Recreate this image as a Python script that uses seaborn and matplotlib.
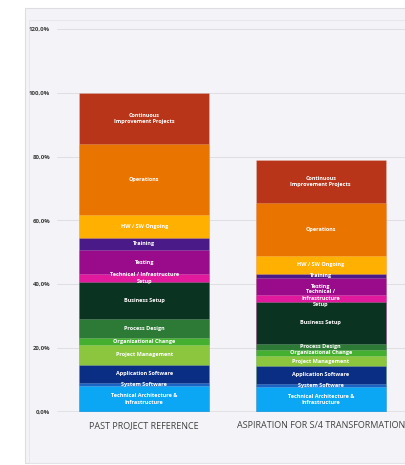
import matplotlib
matplotlib.use("Agg")
import matplotlib.pyplot as plt
import seaborn as sns
import numpy as np
import pandas as pd
from matplotlib.patches import Rectangle

categories = ["PAST PROJECT REFERENCE", "ASPIRATION FOR S/4 TRANSFORMATION"]

segments = [
    "Technical Architecture & Infrastructure",
    "System Software",
    "Application Software",
    "Project Management",
    "Organizational Change",
    "Process Design",
    "Business Setup",
    "Technical / Infrastructure Setup",
    "Testing",
    "Training",
    "HW / SW Ongoing",
    "Operations",
    "Continuous Improvement Projects",
]

past_values = [7.9, 1.0, 5.8, 6.2, 2.1, 6.1, 11.6, 2.4, 7.5, 4.0, 7.0, 22.4, 16.0]
aspiration_values = [7.7, 1.05, 5.45, 3.3, 1.9, 1.85, 13.25, 2.1, 5.2, 1.5, 5.45, 16.65, 13.6]

past_labels = [
    "Technical Architecture &\nInfrastructure", "System Software", "Application Software",
    "Project Management", "Organizational Change", "Process Design", "Business Setup",
    "Technical / Infrastructure\nSetup", "Testing", "Training", "HW / SW Ongoing",
    "Operations", "Continuous\nImprovement Projects",
]
aspiration_labels = [
    "Technical Architecture &\nInfrastructure", "System Software", "Application Software",
    "Project Management", "Organizational Change", "Process Design", "Business Setup",
    "Technical /\nInfrastructure\nSetup", "Testing", "Training", "HW / SW Ongoing",
    "Operations", "Continuous\nImprovement Projects",
]

colors = [
    "#0ba6f4", "#1c64c4", "#0b2e85", "#8cc63e", "#45b02f", "#2c7a35", "#0b3322",
    "#e1199c", "#9a0b8b", "#4a1a88", "#ffb000", "#e97400", "#b9351a",
]

yticks = [0, 20, 40, 60, 80, 100, 120]
ytick_labels = ["0,0%", "20,0%", "40,0%", "60,0%", "80,0%", "100,0%", "120,0%"]

df = pd.DataFrame({"segment": segments, categories[0]: past_values, categories[1]: aspiration_values})

sns.set_theme(style="white")
plt.rcParams["font.family"] = ["Open Sans", "DejaVu Sans"]

W, H = 405, 465
fig = plt.figure(figsize=(W / 100, H / 100), dpi=100)
fig.patch.set_facecolor("white")

# background panel
fig.patches.append(Rectangle((25 / W, 1 - 463 / H), 1.0, (463 - 8) / H, transform=fig.transFigure,
                             facecolor="#f4f3f7", edgecolor="#dedde2", linewidth=0.8, zorder=-10))
fig.patches.append(Rectangle((29 / W, 1 - 463 / H), 1.0, (463 - 20) / H, transform=fig.transFigure,
                             facecolor="none", edgecolor="#e6e5ea", linewidth=0.6, zorder=-9))

ax = fig.add_axes([57 / W, (H - 411.5) / H, 366 / W, (411.5 - 29.3) / H])
ax.set_facecolor("none")
ax.set_zorder(1)

cum = df[categories].cumsum()
for i in range(len(segments) - 1, -1, -1):
    sns.barplot(x=categories, y=cum.iloc[i].values, color=colors[i], saturation=1,
                width=0.737, edgecolor="#ffffff40", linewidth=0.5, ax=ax, zorder=3)

for j, cat in enumerate(categories):
    labels = past_labels if j == 0 else aspiration_labels
    for i in range(len(segments)):
        v = df[cat].iloc[i]
        yc = cum[cat].iloc[i] - v / 2
        ax.text(j, yc, labels[i], ha="center", va="center", color="white",
                fontsize=4.0, fontweight="bold", linespacing=1.35, zorder=5)

ax.set_xlim(-0.495, 1.58)
ax.set_ylim(0, 120)
ax.set_yticks(yticks)
ax.set_yticklabels(ytick_labels)
for sp in ax.spines.values():
    sp.set_visible(False)
ax.grid(axis="y", color="#dfdfe3", linewidth=0.7, zorder=0)
ax.axhline(0, color="#9a9a9a", linewidth=1.0, zorder=4)
ax.tick_params(axis="y", length=0, pad=5, labelsize=4.3, labelcolor="#3a3a3a")
for t in ax.get_yticklabels():
    t.set_fontweight("bold")
ax.tick_params(axis="x", length=0, pad=7, labelsize=6.5, labelcolor="#404040")
ax.set_xlabel("")
ax.set_ylabel("")

fig.savefig("out.png", dpi=100)
